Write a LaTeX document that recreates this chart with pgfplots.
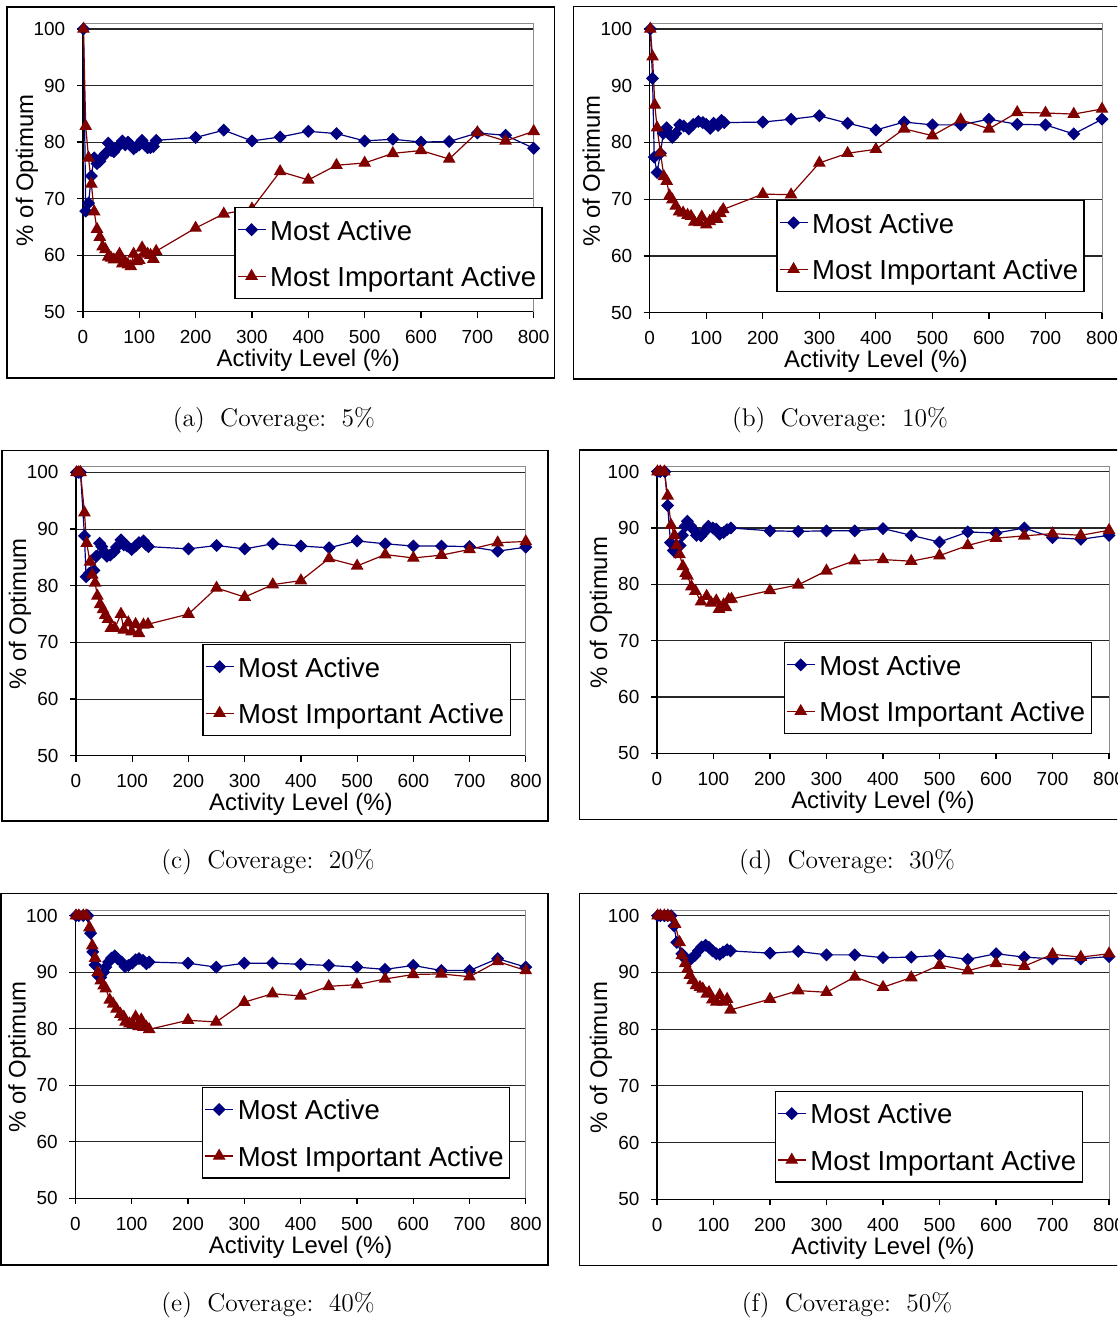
\documentclass[border=0pt]{standalone}
\usepackage{fontspec}
\usepackage{pgfplots}
\pgfplotsset{compat=1.18}
\newfontfamily\arial{Liberation Sans}
\definecolor{mablue}{RGB}{0,0,128}
\definecolor{mired}{RGB}{128,0,0}
\pgfplotsset{
  panel/.style={
    scale only axis,
    xmin=0, xmax=800, ymin=50, ymax=101,
    xtick={0,100,...,800}, ytick={50,60,...,100},
    axis x line*=bottom, axis y line*=left,
    axis line style={black, line width=0.6bp, -},
    tick align=outside, major tick length=3bp,
    every tick/.style={black, line width=0.6bp},
    ymajorgrids, grid style={black!85, line width=0.55bp},
    tick label style={font=\arial\fontsize{9.5}{11}\selectfont},
    /pgf/number format/assume math mode=true,
    xticklabel style={yshift=-3bp},
    yticklabel style={xshift=-2.3bp},
    label style={font=\arial\fontsize{12}{14}\selectfont},
    xlabel={Activity Level (\%)}, ylabel={\% of Optimum},
    x label style={at={([yshift=-24.5bp]axis description cs:0.5,0)}, anchor=center},
    y label style={at={([xshift=-28bp]axis description cs:0,0.49)}, anchor=center},
    legend cell align=left,
    legend style={draw=black, line width=0.6bp, fill=white,
      font=\arial\fontsize{13.8}{16}\selectfont,
      inner xsep=1bp, inner ysep=2.3bp, row sep=5.8bp,
      nodes={inner sep=2bp, text height=1.2em, text depth=0.15em},
      anchor=north west},
    legend image code/.code={\draw[##1, mark repeat=2, mark phase=2] plot coordinates {(0bp,0bp) (7bp,0bp) (14bp,0bp)};},
    clip=false,
  },
  ma/.style={mablue, line width=0.6bp, mark=square*, mark size=2bp, mark options={solid, rotate=45, fill=mablue}},
  mia/.style={mired, line width=0.6bp, mark=triangle*, mark size=3.1bp, mark options={solid, fill=mired}},
}
\newcommand{\grayframe}{\draw[black!45, line width=0.5bp] (rel axis cs:0,1) -- (rel axis cs:1,1) -- (rel axis cs:1,0);}
\newcommand{\legs}{\legend{Most Active, Most Important Active}}
\begin{document}
\begin{tikzpicture}[x=0.5bp,y=-0.5bp]
\clip (0,0) rectangle (1117,1323);
\path[use as bounding box] (0,0) rectangle (1117,1323);
\draw[line width=0.75bp] (7,7) rectangle (554.5,378);
\draw[line width=0.75bp] (573.3,6.7) rectangle (1130,379);
\draw[line width=0.75bp] (1.8,450.7) rectangle (548,821);
\draw[line width=0.75bp] (579.7,450) rectangle (1130,819.3);
\draw[line width=0.75bp] (1.2,893.3) rectangle (548,1265);
\draw[line width=0.75bp] (579.7,893.3) rectangle (1130,1265.7);
\begin{scope}[font=\fontsize{12.8}{15}\selectfont]
\node at (274,420) {(a)\hspace{0.6em}Coverage:\hspace{0.6em}5\%};
\node at (840,420) {(b)\hspace{0.6em}Coverage:\hspace{0.6em}10\%};
\node at (268,862) {(c)\hspace{0.6em}Coverage:\hspace{0.6em}20\%};
\node at (847,862) {(d)\hspace{0.6em}Coverage:\hspace{0.6em}30\%};
\node at (268,1305) {(e)\hspace{0.6em}Coverage:\hspace{0.6em}40\%};
\node at (847,1305) {(f)\hspace{0.6em}Coverage:\hspace{0.6em}50\%};
\end{scope}
% (a)
\begin{axis}[panel, at={(41.45bp,-155.85bp)}, anchor=south west, width=225.4bp, height=144.2bp, legend style={at={(0.336,0.363)}}]
\grayframe
\addplot[ma] coordinates {(1,100)(5,67.8)(10,69.2)(15,74.0)(20,77.2)(25,76.2)(30,76.6)(35,77.4)(40,78.0)(45,79.8)(50,78.5)(55,78.3)(60,79.0)(65,79.5)(70,80.2)(75,79.5)(80,80.0)(85,79.5)(90,78.8)(95,79.2)(100,79.5)(105,80.3)(110,79.5)(115,79.0)(120,79.0)(125,79.2)(130,80.3)(200,80.8)(250,82.1)(300,80.2)(350,80.9)(400,81.9)(450,81.5)(500,80.2)(550,80.5)(600,80.0)(650,80.1)(700,81.6)(750,81.2)(800,78.9)};
\addplot[mia] coordinates {(1,100)(5,82.8)(10,77.2)(15,72.6)(20,67.7)(25,64.6)(30,63.2)(35,61.5)(40,61.0)(45,59.7)(50,59.5)(55,59.2)(60,59.3)(65,60.2)(70,58.5)(75,58.8)(80,58.3)(85,58.0)(90,60.2)(95,58.9)(100,59.1)(105,61.3)(110,60.4)(115,60.2)(120,60.0)(125,59.3)(130,60.7)(200,64.8)(250,67.3)(300,68.2)(350,74.8)(400,73.3)(450,75.9)(500,76.3)(550,78.0)(600,78.5)(650,77.0)(700,81.7)(750,80.2)(800,81.9)};
\legs
\end{axis}
% (b)
\begin{axis}[panel, at={(324.85bp,-156.35bp)}, anchor=south west, width=226.15bp, height=144.7bp, legend style={at={(0.280,0.389)}}]
\grayframe
\addplot[ma] coordinates {(1,100)(5,91.3)(8,77.4)(13,74.7)(19,78.1)(24,81.6)(30,82.6)(34,81.6)(40,80.9)(46,81.6)(53,83.1)(60,82.9)(69,82.4)(77,83.2)(86,83.7)(94,83.5)(100,83.2)(107,82.5)(113,83.4)(121,83.0)(127,83.9)(132,83.5)(200,83.6)(250,84.1)(300,84.7)(350,83.4)(400,82.2)(450,83.6)(500,83.1)(550,83.1)(600,84.1)(650,83.2)(700,83.1)(750,81.5)(800,84.1)};
\addplot[mia] coordinates {(1,100)(5,95.1)(9,86.6)(13,82.6)(19,78.2)(25,74.0)(30,73.2)(35,70.6)(40,69.9)(46,68.8)(52,67.8)(59,67.6)(67,67.2)(73,67.0)(79,66.0)(88,65.9)(92,66.9)(100,65.5)(106,66.1)(113,66.9)(119,66.5)(125,67.5)(130,68.2)(200,70.9)(250,70.8)(300,76.4)(350,78.1)(400,78.8)(450,82.4)(500,81.2)(550,84.0)(600,82.4)(650,85.3)(700,85.2)(750,85.0)(800,85.9)};
\legs
\end{axis}
% (c)
\begin{axis}[panel, at={(38bp,-377.85bp)}, anchor=south west, width=224.9bp, height=144.5bp, legend style={at={(0.281,0.3865)}}]
\grayframe
\addplot[ma] coordinates {(1,100)(5,100)(8,100)(15,88.8)(18,81.6)(24,82.2)(32,82.7)(36,85.2)(42,87.5)(46,86.9)(50,86.0)(55,85.2)(61,85.4)(68,86.0)(72,86.8)(80,88.1)(85,87.2)(91,87.0)(99,86.4)(106,87.0)(112,87.6)(120,87.9)(125,87.2)(129,86.9)(200,86.5)(250,87.1)(300,86.5)(350,87.4)(400,87.0)(450,86.7)(500,87.9)(550,87.4)(600,87.0)(650,87.0)(700,86.9)(750,86.1)(800,86.8)};
\addplot[mia] coordinates {(1,100)(5,100)(8,100)(15,92.9)(19,87.5)(25,84.2)(29,81.9)(34,80.5)(38,78.2)(43,76.7)(48,75.8)(52,74.8)(57,74.1)(62,72.5)(69,72.5)(80,75.0)(85,72.2)(93,73.5)(99,71.9)(106,73.2)(112,71.6)(120,73.1)(128,73.2)(200,75.0)(250,79.6)(300,78.0)(350,80.2)(400,80.9)(450,84.8)(500,83.5)(550,85.5)(600,84.9)(650,85.4)(700,86.4)(750,87.6)(800,87.8)};
\legs
\end{axis}
% (d)
\begin{axis}[panel, at={(328.45bp,-376.65bp)}, anchor=south west, width=226.05bp, height=143.65bp, legend style={at={(0.280,0.387)}}]
\grayframe
\addplot[ma] coordinates {(1,100)(6,100)(14,100)(19,94.0)(24,87.4)(29,86.0)(33,85.7)(41,86.9)(45,88.7)(50,90.3)(54,91.2)(59,90.4)(65,89.7)(70,88.7)(78,88.6)(85,89.4)(91,90.3)(99,90.0)(105,89.8)(111,88.9)(118,89.2)(124,89.7)(131,90.0)(200,89.5)(250,89.4)(300,89.5)(350,89.5)(400,89.9)(450,88.7)(500,87.5)(550,89.3)(600,89.1)(650,90.0)(700,88.3)(750,88.0)(800,88.7)};
\addplot[mia] coordinates {(1,100)(6,100)(13,100)(19,95.7)(25,90.5)(31,88.7)(35,86.9)(40,85.3)(46,83.2)(51,82.0)(54,81.5)(61,79.6)(68,78.8)(78,76.9)(88,77.9)(96,76.7)(105,77.1)(110,75.6)(118,76.4)(122,75.9)(127,77.3)(132,77.4)(200,78.9)(250,79.9)(300,82.4)(350,84.2)(400,84.4)(450,84.1)(500,85.1)(550,86.9)(600,88.2)(650,88.6)(700,89.0)(750,88.7)(800,89.6)};
\legs
\end{axis}
% (e)
\begin{axis}[panel, at={(37.7bp,-599.15bp)}, anchor=south west, width=225.2bp, height=144.15bp, legend style={at={(0.281,0.387)}}]
\grayframe
\addplot[ma] coordinates {(1,100)(6,100)(14,100)(22,100)(27,96.9)(31,93.6)(35,91.3)(40,89.4)(45,89.1)(50,90.0)(54,90.9)(59,91.8)(64,92.5)(70,92.9)(75,92.4)(82,91.8)(88,91.0)(94,91.2)(101,91.6)(107,92.2)(113,92.4)(120,92.1)(126,91.5)(131,91.8)(200,91.6)(250,90.9)(300,91.6)(350,91.6)(400,91.4)(450,91.2)(500,90.9)(550,90.5)(600,91.2)(650,90.3)(700,90.3)(750,92.4)(800,90.9)};
\addplot[mia] coordinates {(1,100)(6,100)(14,100)(19,100)(25,97.9)(30,94.7)(35,92.5)(40,90.0)(45,88.5)(50,87.6)(54,87.1)(61,85.1)(67,84.4)(73,83.5)(80,82.6)(86,82.1)(89,81.2)(96,80.9)(102,80.8)(107,82.1)(112,80.4)(117,81.6)(121,80.3)(126,80.3)(131,79.9)(200,81.5)(250,81.2)(300,84.7)(350,86.2)(400,85.8)(450,87.5)(500,87.8)(550,88.8)(600,89.6)(650,89.7)(700,89.2)(750,91.9)(800,90.3)};
\legs
\end{axis}
% (f)
\begin{axis}[panel, at={(328.5bp,-599.65bp)}, anchor=south west, width=226bp, height=144.65bp, legend style={at={(0.260,0.375)}}]
\grayframe
\addplot[ma] coordinates {(1,100)(6,100)(13,100)(19,100)(25,100)(30,98.2)(35,95.3)(44,93.3)(50,92.4)(56,92.1)(60,92.4)(67,93.0)(73,93.8)(79,94.5)(86,94.8)(92,94.4)(98,93.8)(105,93.3)(111,93.2)(117,93.6)(124,94.0)(130,93.8)(200,93.4)(250,93.7)(300,93.1)(350,93.1)(400,92.6)(450,92.7)(500,93.0)(550,92.3)(600,93.3)(650,92.7)(700,92.4)(750,92.4)(800,92.8)};
\addplot[mia] coordinates {(1,100)(6,100)(13,100)(19,100)(25,99.7)(32,98.5)(40,95.3)(44,93.0)(50,91.6)(54,90.6)(58,89.5)(63,88.6)(69,87.7)(76,87.4)(81,87.1)(88,86.2)(92,86.5)(98,85.2)(105,84.8)(111,86.0)(117,84.8)(124,85.3)(130,83.4)(200,85.3)(250,86.8)(300,86.5)(350,89.2)(400,87.4)(450,89.1)(500,91.3)(550,90.3)(600,91.6)(650,91.1)(700,93.2)(750,92.7)(800,93.3)};
\legs
\end{axis}
\end{tikzpicture}
\end{document}
